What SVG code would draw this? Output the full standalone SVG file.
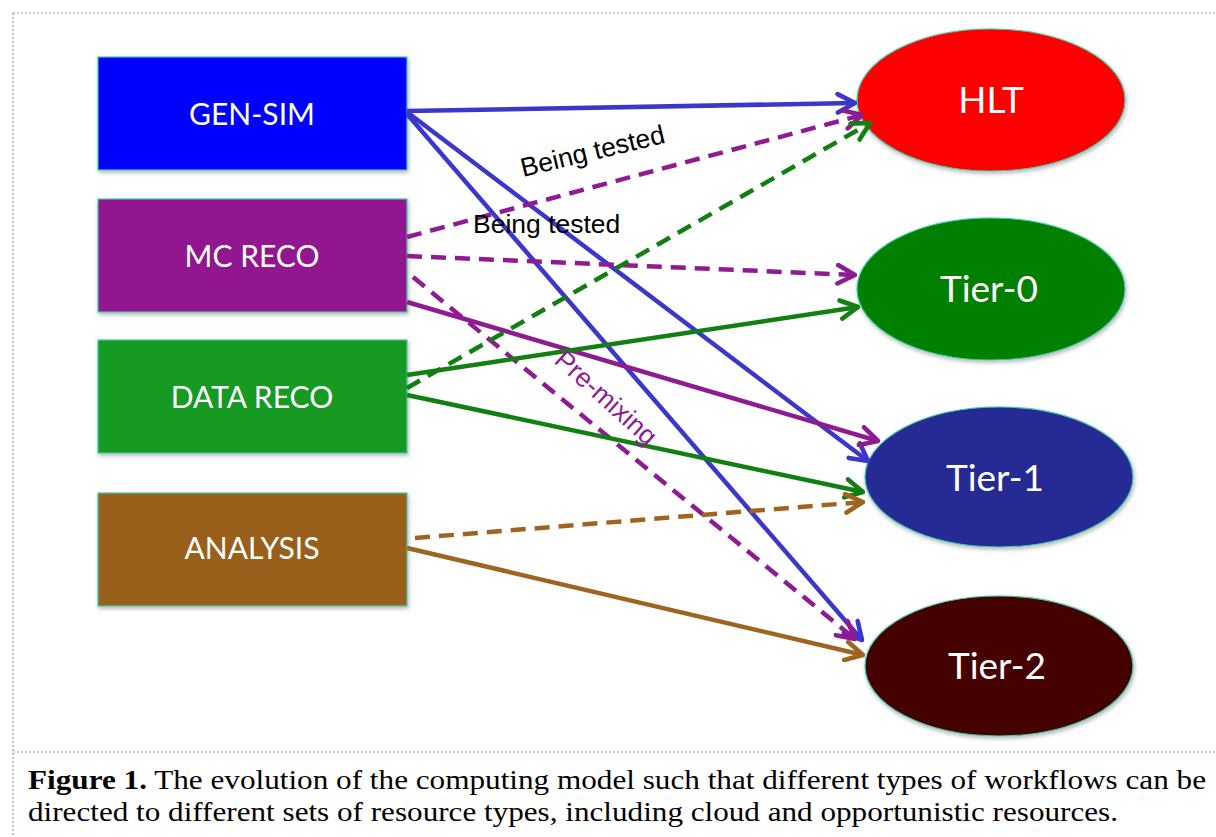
<svg xmlns="http://www.w3.org/2000/svg" width="1216" height="837" viewBox="0 0 1216 837">
<style>
.frame{stroke:#9a9a9a;stroke-width:1.2;stroke-dasharray:2 2;fill:none}
.box{stroke:#45c8a8;stroke-width:1.2;filter:url(#sh)}
.lbl{font-family:Lato,"Open Sans",sans-serif;fill:#fff;text-anchor:middle}
.bl{font-size:30px}
.el{font-size:37px}
.c{fill:none;stroke-width:4.5}
.d{stroke-dasharray:15 9}
.blue{stroke:#3b36cc}
.pur{stroke:#8f1b93}
.grn{stroke:#127f12}
.brn{stroke:#9e6420}
.note{font-family:"Liberation Sans",Arial,sans-serif;font-size:26.5px}
.cap{font-family:"Liberation Serif","Times New Roman",serif;font-size:27px;fill:#000}
</style>
<defs>
<filter id="sh" x="-10%" y="-10%" width="125%" height="130%">
<feDropShadow dx="1" dy="2" stdDeviation="2" flood-color="#000" flood-opacity="0.3"/>
</filter>
<marker id="mb" viewBox="0 0 20 20" refX="18" refY="10" markerWidth="23" markerHeight="23" markerUnits="userSpaceOnUse" orient="auto"><path d="M3,2 L18,10 L3,18" fill="none" stroke="#3b36cc" stroke-width="4" stroke-linecap="round" stroke-linejoin="round"/></marker>
<marker id="mp" viewBox="0 0 20 20" refX="18" refY="10" markerWidth="23" markerHeight="23" markerUnits="userSpaceOnUse" orient="auto"><path d="M3,2 L18,10 L3,18" fill="none" stroke="#8f1b93" stroke-width="4" stroke-linecap="round" stroke-linejoin="round"/></marker>
<marker id="mg" viewBox="0 0 20 20" refX="18" refY="10" markerWidth="23" markerHeight="23" markerUnits="userSpaceOnUse" orient="auto"><path d="M3,2 L18,10 L3,18" fill="none" stroke="#127f12" stroke-width="4" stroke-linecap="round" stroke-linejoin="round"/></marker>
<marker id="mo" viewBox="0 0 20 20" refX="18" refY="10" markerWidth="23" markerHeight="23" markerUnits="userSpaceOnUse" orient="auto"><path d="M3,2 L18,10 L3,18" fill="none" stroke="#9e6420" stroke-width="4" stroke-linecap="round" stroke-linejoin="round"/></marker>
</defs>
<rect width="1216" height="837" fill="#fff"/>
<g id="frame">
<line class="frame" x1="13" y1="13" x2="1216" y2="13"/>
<line class="frame" x1="13" y1="13" x2="13" y2="837"/>
<line class="frame" x1="13" y1="752" x2="1216" y2="752"/>
</g>
<g id="gen-sim"><rect class="box" x="98" y="57" width="309" height="113" fill="#0000ff"/><text class="lbl bl" x="252" y="125">GEN-SIM</text></g>
<g id="mc-reco"><rect class="box" x="98" y="199" width="309" height="113" fill="#92168f"/><text class="lbl bl" x="252" y="267">MC RECO</text></g>
<g id="data-reco"><rect class="box" x="98" y="340" width="309" height="113" fill="#129a24"/><text class="lbl bl" x="252" y="408">DATA RECO</text></g>
<g id="analysis"><rect class="box" x="98" y="493" width="309" height="113" fill="#99611e"/><text class="lbl bl" x="252" y="559">ANALYSIS</text></g>
<g id="hlt"><ellipse class="box" cx="991" cy="100" rx="134" ry="71" fill="#ff0000"/><text class="lbl el" x="991" y="113">HLT</text></g>
<g id="tier-0"><ellipse class="box" cx="991" cy="289" rx="134" ry="71" fill="#008000"/><text class="lbl el" x="989" y="302">Tier-0</text></g>
<g id="tier-1"><ellipse class="box" cx="999" cy="477" rx="134" ry="70" fill="#272a95"/><text class="lbl el" x="995" y="491">Tier-1</text></g>
<g id="tier-2"><ellipse class="box" cx="999" cy="666" rx="134" ry="70" fill="#450000"/><text class="lbl el" x="997" y="679">Tier-2</text></g>
<g id="connectors">
<line class="c blue" x1="407" y1="111" x2="855" y2="103" marker-end="url(#mb)"/>
<line class="c blue" x1="407" y1="112" x2="868" y2="461" marker-end="url(#mb)"/>
<line class="c blue" x1="407" y1="114" x2="862" y2="640" marker-end="url(#mb)"/>
<line class="c pur d" x1="407" y1="237" x2="862" y2="115" marker-end="url(#mp)"/>
<line class="c pur d" x1="407" y1="256" x2="855" y2="275" marker-end="url(#mp)"/>
<line class="c pur d" x1="413" y1="277" x2="855" y2="639" marker-end="url(#mp)"/>
<line class="c pur" x1="407" y1="302" x2="878" y2="441" marker-end="url(#mp)"/>
<line class="c grn d" x1="407" y1="388" x2="870" y2="123" marker-end="url(#mg)"/>
<line class="c grn" x1="407" y1="375" x2="858" y2="307" marker-end="url(#mg)"/>
<line class="c grn" x1="407" y1="395" x2="863" y2="492" marker-end="url(#mg)"/>
<line class="c brn d" x1="415" y1="538" x2="863" y2="502" marker-end="url(#mo)"/>
<line class="c brn" x1="407" y1="548" x2="863" y2="655" marker-end="url(#mo)"/>
<text class="note" x="523" y="177" fill="#000" transform="rotate(-13.5 523 177)">Being tested</text>
<text class="note" x="473" y="233" fill="#000">Being tested</text>
<text class="note" x="553" y="362" fill="#8f1b93" font-size="26" transform="rotate(42 553 362)">Pre-mixing</text>
</g>
<g id="caption">
<text class="cap" x="28" y="789" textLength="1178" lengthAdjust="spacingAndGlyphs"><tspan font-weight="bold">Figure 1.</tspan> The evolution of the computing model such that different types of workflows can be</text>
<text class="cap" x="28" y="821" textLength="1090" lengthAdjust="spacingAndGlyphs">directed to different sets of resource types, including cloud and opportunistic resources.</text>
</g>
</svg>
